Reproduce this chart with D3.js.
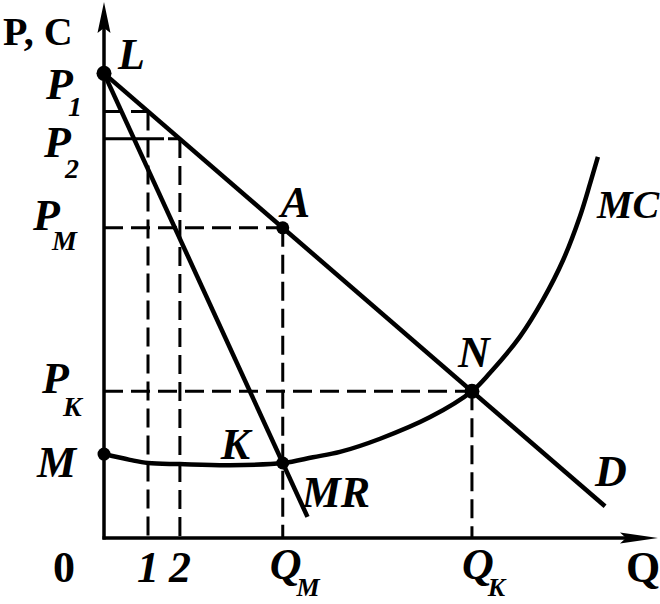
<!DOCTYPE html>
<html>
<head>
<meta charset="utf-8">
<script src="https://cdn.jsdelivr.net/npm/d3@7"></script>
<style>
  html, body { margin: 0; padding: 0; background: #fff; }
  svg { display: block; }
  text { font-family: "Liberation Serif", "DejaVu Serif", serif; font-weight: bold; fill: #000; }
</style>
</head>
<body>
<div id="chart"></div>
<script>
// ---- Data (quantity Q on x, price/cost P,C on y; arbitrary units) ----
const demandQ = [0, 91.1];
const demandP = [88, 6.0];
const mrQ = [0, 37];
const mrP = [88, 4.0];
const mcQ = [0, 4.7, 8, 13.8, 22.9, 32.5, 38, 42.9, 50.2, 59.3, 66.9, 70.2, 75.6, 79.8, 83.5, 86.5, 88.4, 89.8];
const mcP = [15.9, 14.8, 14.2, 14.0, 13.8, 14.2, 15.3, 16.3, 18.8, 22.9, 27.8, 31.3, 38.1, 45.1, 52.7, 60.8, 67.2, 72.2];
const qTicks = [8, 13.8, 32.5, 66.9];          // 1, 2, Q_M, Q_K
const qTickLabels = [["1", ""], ["2", ""], ["Q", "M"], ["Q", "K"]];
const pTicks = [80.8, 75.6, 58.75, 27.8, 15.9]; // P1, P2, PM, PK, M
const pTickLabels = [["P", "1"], ["P", "2"], ["P", "M"], ["P", "K"], ["M", ""]];
const pointNames = ["L", "A", "N", "K"];
const pointQ = [0, 32.5, 66.9, 32.5];
const pointP = [88, 58.75, 27.8, 14.2];
const axisTitles = ["P, C", "Q", "0"];
const curveNames = ["D", "MR", "MC"];

// ---- Layout ----
const W = 660, H = 604;
const x = d3.scaleLinear().domain([0, 100]).range([104, 654]);
const y = d3.scaleLinear().domain([0, 100]).range([538, 10]);

const svg = d3.select("#chart").append("svg").attr("width", W).attr("height", H);
svg.append("rect").attr("width", W).attr("height", H).attr("fill", "#fff");

const dash = "19,8";

// guide lines (dashed)
const g = svg.append("g").attr("stroke", "#000").attr("stroke-width", 3).attr("fill", "none");
const dem = q => demandP[0] + (demandP[1] - demandP[0]) * (q - demandQ[0]) / (demandQ[1] - demandQ[0]);
qTicks.forEach(q => {
  g.append("line").attr("x1", x(q)).attr("x2", x(q))
    .attr("y1", y(dem(q))).attr("y2", y(0))
    .attr("stroke-dasharray", dash);
});
pTicks.slice(0, 4).forEach((p, i) => {
  const q = qTicks[i];
  g.append("line").attr("x1", x(0)).attr("x2", x(q))
    .attr("y1", y(p)).attr("y2", y(p))
    .attr("stroke-dasharray", i === 1 ? "60,4" : dash);
});

// axes
const ax = svg.append("g").attr("stroke", "#000").attr("stroke-width", 3.5);
ax.append("line").attr("x1", x(0)).attr("x2", x(0)).attr("y1", y(0) + 1.5).attr("y2", 20);
ax.append("line").attr("x1", x(0) - 1.5).attr("x2", 640).attr("y1", y(0)).attr("y2", y(0));
svg.append("path").attr("d", `M${x(0)},2 L${x(0) + 6.5},33 L${x(0)},28 L${x(0) - 6.5},33 Z`).attr("fill", "#000");
svg.append("path").attr("d", `M658,${y(0)} L620,${y(0) - 5.5} L626,${y(0)} L620,${y(0) + 5.5} Z`).attr("fill", "#000");

// curves
const line = d3.line().x(d => x(d[0])).y(d => y(d[1]));
svg.append("path").datum(demandQ.map((q, i) => [q, demandP[i]]))
  .attr("d", line).attr("stroke", "#000").attr("stroke-width", 4.5).attr("fill", "none");
svg.append("path").datum(mrQ.map((q, i) => [q, mrP[i]]))
  .attr("d", line).attr("stroke", "#000").attr("stroke-width", 4.5).attr("fill", "none");
svg.append("path").datum(mcQ.map((q, i) => [q, mcP[i]]))
  .attr("d", line.curve(d3.curveCatmullRom.alpha(0.5)))
  .attr("stroke", "#000").attr("stroke-width", 4.5).attr("fill", "none");

// points
const dots = [[pointQ[0], pointP[0], 7.5], [pointQ[1], pointP[1], 6.5], [pointQ[2], pointP[2], 7.5],
              [pointQ[3], pointP[3], 6.5], [mcQ[0], mcP[0], 6.5]];
dots.forEach(d => svg.append("circle").attr("cx", x(d[0])).attr("cy", y(d[1])).attr("r", d[2]).attr("fill", "#000"));

// text helper
function label(px, py, main, sub, opts = {}) {
  const t = svg.append("text").attr("x", px).attr("y", py)
    .attr("font-size", opts.size || 44)
    .attr("font-style", opts.upright ? "normal" : "italic")
    .attr("text-anchor", opts.anchor || "start");
  t.append("tspan").text(main);
  if (sub) t.append("tspan").attr("font-size", opts.subSize || 28).attr("dx", opts.sdx || -4).attr("dy", opts.sdy || 19).text(sub);
  return t;
}

// axis titles
label(3, 45, axisTitles[0], "", { upright: true, size: 40 });
label(626, 582, axisTitles[1], "", { upright: true });
label(53, 582, axisTitles[2], "", { upright: true });

// x tick labels
label(x(qTicks[0]), 582, qTickLabels[0][0], "", { anchor: "middle" });
label(x(qTicks[1]), 582, qTickLabels[1][0], "", { anchor: "middle" });
label(x(qTicks[2]) - 13, 579, qTickLabels[2][0], qTickLabels[2][1], { sdx: -5, sdy: 17, subSize: 26 });
label(x(qTicks[3]) - 10, 579, qTickLabels[3][0], qTickLabels[3][1], { sdx: -6, sdy: 17, subSize: 26 });

// y tick labels  [x, dy from line, sub dx, sub dy]
const pOff = [[46, -12, -5, 17], [44, 18, -6, 21], [33, 2, -8, 20], [42, 2, -6, 23], [37, 23, 0, 0]];
pTicks.forEach((p, i) => {
  const o = pOff[i];
  label(o[0], y(p) + o[1], pTickLabels[i][0], pTickLabels[i][1], { sdx: o[2], sdy: o[3] });
});

// point labels
const ptOff = [[14, -4], [-2, -11], [-14, -24], [-62, -4]];
pointNames.forEach((n, i) => label(x(pointQ[i]) + ptOff[i][0], y(pointP[i]) + ptOff[i][1], n, ""));

// curve labels
label(x(demandQ[1]) - 10, y(demandP[1]) - 20, curveNames[0], "");
label(x(32.5) + 19, y(14.2) + 44, curveNames[1], "");
label(x(mcQ[mcQ.length - 1]) - 1, y(mcP[mcP.length - 1]) + 61, curveNames[2], "", { size: 40 });
</script>
</body>
</html>
